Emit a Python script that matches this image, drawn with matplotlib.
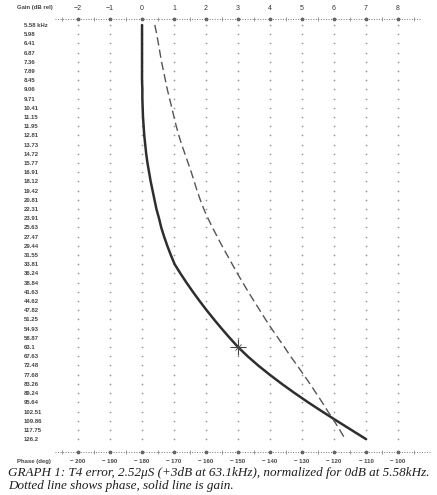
import matplotlib.pyplot as plt
import numpy as np

freq_labels = ["5.58 kHz", "5.98", "6.41", "6.87", "7.36", "7.89", "8.45", "9.06",
               "9.71", "10.41", "11.15", "11.95", "12.81", "13.73", "14.72", "15.77",
               "16.91", "18.12", "19.42", "20.81", "22.31", "23.91", "25.63", "27.47",
               "29.44", "31.55", "33.81", "36.24", "38.84", "41.63", "44.62", "47.82",
               "51.25", "54.93", "58.87", "63.1", "67.63", "72.48", "77.68", "83.26",
               "89.24", "95.64", "102.51", "109.86", "117.75", "126.2"]

# gain in dB, one value per frequency row
gain_db = [0.0, 0.0, 0.0, 0.0, 0.0, 0.0, 0.0, 0.01, 0.01, 0.02,
           0.03, 0.05, 0.07, 0.1, 0.13, 0.17, 0.22, 0.27, 0.33, 0.39,
           0.45, 0.53, 0.6, 0.69, 0.79, 0.9, 1.02, 1.2, 1.39, 1.59,
           1.8, 2.02, 2.25, 2.49, 2.74, 3.0, 3.3, 3.63, 3.99, 4.37,
           4.77, 5.19, 5.63, 6.08, 6.54, 7.0]

# phase in degrees
phase_deg = [-176.0, -175.4, -174.9, -174.4, -173.9, -173.3, -172.7, -172.1, -171.4, -170.7,
             -170.0, -169.3, -168.5, -167.6, -166.6, -165.6, -164.6, -163.7, -162.8, -161.8,
             -160.7, -159.4, -158.0, -156.5, -155.0, -153.4, -151.8, -150.2, -148.5, -146.8,
             -145.0, -143.2, -141.4, -139.5, -137.5, -135.5, -133.6, -131.5, -129.5, -127.5,
             -125.6, -123.7, -121.9, -120.0, -118.2, -116.5]

gain_ticks = list(range(-2, 9))
phase_ticks = list(range(-200, -99, 10))
marker_row = 35  # 63.1 kHz, +3dB point

W, H = 437, 495
fig = plt.figure(figsize=(W / 100, H / 100), dpi=100)
fig.patch.set_facecolor("white")
ax = fig.add_axes([55 / W, 1 - 452 / H, 375 / W, 433 / H])
rows = np.arange(len(freq_labels))

ax.set_xlim(-2.72, 9.0)
ax.set_ylim(46.4, -0.65)
for s in ax.spines.values():
    s.set_visible(False)

# dotted grid columns
for g in gain_ticks:
    ax.plot([g] * len(rows), rows, ls="none", marker="+", ms=1.8, mew=0.45,
            color="#9a9a9a", clip_on=False)

# dotted frame lines top and bottom
halves = np.arange(-2.5, 8.6, 1.0)
for yy, x1 in [(-0.65, 8.7), (46.4, 9.0)]:
    ax.plot([-2.72, x1], [yy, yy], ls=(0, (1, 1.6)), lw=0.7, color="#777", clip_on=False)
    ax.plot(gain_ticks, [yy] * len(gain_ticks), ls="none", marker="*", ms=2.5,
            color="#666", clip_on=False)
    ax.plot(halves, [yy] * len(halves), ls="none", marker="|", ms=2.5, mew=0.5,
            color="#777", clip_on=False)

ax.plot(gain_db, rows, color="#2e2e2e", lw=1.8, solid_capstyle="round")
ax.plot(gain_db[marker_row], rows[marker_row], marker="+", ms=11, mew=0.8, color="#444")
ax.plot(gain_db[marker_row], rows[marker_row], marker="x", ms=5, mew=0.6, color="#444")

ax.set_yticks(rows)
ax.set_yticklabels(freq_labels, fontsize=4.3, family="Liberation Sans",
                   fontweight="bold", color="#444")
ax.tick_params(axis="y", length=0, pad=22.3)
for t in ax.get_yticklabels():
    t.set_ha("left")

# phase scale on the bottom, same grid
ph = ax.twiny()
ph.set_xlim(-207.2, -90.0)
for s in ph.spines.values():
    s.set_visible(False)
ph.plot(phase_deg, rows, color="#555", lw=1.0, ls=(0, (6, 3)))
ph.xaxis.tick_bottom()
ph.set_xticks(phase_ticks)
ph.set_xticklabels([str(p).replace("-", "\u2212 ") for p in phase_ticks],
                   fontsize=4.3, family="Liberation Sans", fontweight="bold", color="#444")
ph.tick_params(axis="x", length=0, pad=5)

# gain scale on top (twiny resets it, so set after)
ax.xaxis.tick_top()
ax.set_xticks(gain_ticks)
ax.set_xticklabels([str(g).replace("-", "\u2212") for g in gain_ticks],
                   fontsize=5, family="Liberation Sans", color="#333")
ax.tick_params(axis="x", length=0, pad=5)

fig.text(17 / W, 1 - 7 / H, "Gain (dB rel)", fontsize=4.3, family="Liberation Sans",
         fontweight="bold", color="#444", va="center", ha="left")
fig.text(17 / W, 1 - 462 / H, "Phase (deg)", fontsize=4.3, family="Liberation Sans",
         fontweight="bold", color="#444", va="center", ha="left")

fig.text(8 / W, 1 - 476 / H,
         "GRAPH 1: T4 error, 2.52\u03bcS (+3dB at 63.1kHz), normalized for 0dB at 5.58kHz.",
         fontsize=9.45, family="Liberation Serif", style="italic", color="#1e1e1e",
         va="baseline", ha="left")
fig.text(8 / W, 1 - 489 / H, "Dotted line shows phase, solid line is gain.",
         fontsize=9.45, family="Liberation Serif", style="italic", color="#1e1e1e",
         va="baseline", ha="left")

fig.savefig("out.png", dpi=100, facecolor="white")
